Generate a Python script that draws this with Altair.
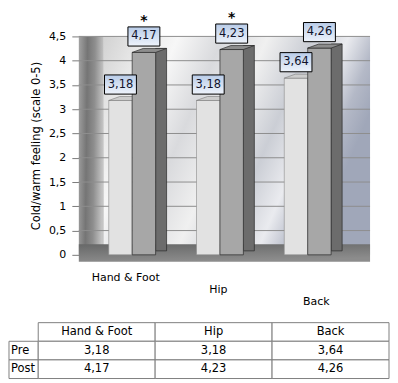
import altair as alt
import pandas as pd

# ---- data ----
categories = ["Hand & Foot", "Hip", "Back"]
series = ["Pre", "Post"]
pre_values = [3.18, 3.18, 3.64]
post_values = [4.17, 4.23, 4.26]
significance = ["*", "*", ""]
y_ticks = [0, 0.5, 1, 1.5, 2, 2.5, 3, 3.5, 4, 4.5]
row_labels = ["Pre", "Post"]
y_title = "Cold/warm feeling (scale 0-5)"


def fmt(v):
    return f"{v:.2f}".replace(".", ",")


bars = pd.DataFrame({
    "category": categories * 2,
    "series": [series[0]] * len(categories) + [series[1]] * len(categories),
    "value": pre_values + post_values,
    "sig": [""] * len(categories) + significance,
})
bars["label"] = bars["value"].map(fmt)

cells = []
for j, c in enumerate(categories):
    cells.append({"row": "head", "col": j + 1, "text": c, "kind": "head"})
for r, vals in zip(row_labels, [pre_values, post_values]):
    cells.append({"row": r, "col": 0, "text": r, "kind": "rowlabel"})
    for j, v in enumerate(vals):
        cells.append({"row": r, "col": j + 1, "text": fmt(v), "kind": "value"})
table = pd.DataFrame(cells)

ticks_df = pd.DataFrame({"tick": [t for t in y_ticks if t > 0]})
one = pd.DataFrame({"k": [0]})

FONT = "DejaVu Sans"
W, H = 292, 219

# ---- scales and axes ----
xscale = alt.Scale(domain=categories, range=[15, 279], paddingInner=0, paddingOuter=0)
xoff_scale = alt.Scale(domain=series, range=[15, 62], paddingInner=0, paddingOuter=0)
yscale = alt.Scale(domain=[0, 4.5], nice=False)

xaxis = alt.Axis(
    title=None, domain=False, ticks=False, labelAngle=0,
    labelFont=FONT, labelFontSize=11, labelColor="#000", labelBaseline="top",
    labelPadding={"condition": [{"test": "datum.value === 'Hip'", "value": 29},
                                {"test": "datum.value === 'Back'", "value": 41}],
                  "value": 17},
    labelOffset={"condition": [{"test": "datum.value === 'Hand & Foot'", "value": -12},
                               {"test": "datum.value === 'Hip'", "value": -7}],
                 "value": 3},
)
yaxis = alt.Axis(
    title=y_title, values=y_ticks, domain=False, grid=False,
    tickColor="#7a7a7a", tickSize=7, labelPadding=6,
    labelExpr="replace(format(datum.value, '.1~f'), '.', ',')",
    labelFont=FONT, labelFontSize=11, labelColor="#000",
    titleFont=FONT, titleFontSize=11.5, titleFontWeight="normal", titleColor="#000",
    titlePadding=7,
)

X = alt.X("category:N", scale=xscale, axis=xaxis)
XO = alt.XOffset("series:N", scale=xoff_scale)
Y = alt.Y("value:Q", scale=yscale, axis=yaxis)

wall_grad = alt.LinearGradient(
    gradient="linear", x1=0, y1=0, x2=1, y2=0.35,
    stops=[
        alt.GradientStop(offset=0, color="#d2d2d2"),
        alt.GradientStop(offset=0.12, color="#e6e6e6"),
        alt.GradientStop(offset=0.25, color="#f7f7f7"),
        alt.GradientStop(offset=0.4, color="#d9dadd"),
        alt.GradientStop(offset=0.55, color="#f0f0f0"),
        alt.GradientStop(offset=0.7, color="#cbced5"),
        alt.GradientStop(offset=0.82, color="#eaebef"),
        alt.GradientStop(offset=0.92, color="#b4b9c7"),
        alt.GradientStop(offset=1, color="#a0a7b9"),
    ])
side_grad = alt.LinearGradient(
    gradient="linear", x1=0, y1=0, x2=1, y2=0.1,
    stops=[
        alt.GradientStop(offset=0, color="#a2a2a2"),
        alt.GradientStop(offset=0.35, color="#757575"),
        alt.GradientStop(offset=0.65, color="#8e8e8e"),
        alt.GradientStop(offset=1, color="#c4c4c4"),
    ])
floor_grad = alt.LinearGradient(
    gradient="linear", x1=0, y1=0, x2=0.3, y2=1,
    stops=[
        alt.GradientStop(offset=0, color="#676868"),
        alt.GradientStop(offset=1, color="#8c8c8c"),
    ])
box_grad = alt.LinearGradient(
    gradient="linear", x1=0, y1=0, x2=0, y2=1,
    stops=[
        alt.GradientStop(offset=0, color="#b9cce8"),
        alt.GradientStop(offset=1, color="#eef3fb"),
    ])

wall = alt.Chart(one).mark_rect(fill=wall_grad).encode(
    x=alt.value(25), x2=alt.value("width"), y=alt.value(0), y2=alt.value("height"))
left_wall = alt.Chart(one).mark_rect(fill=side_grad).encode(
    x=alt.value(0), x2=alt.value(25), y=alt.value(0), y2=alt.value("height"))
grid = alt.Chart(ticks_df).mark_rule(color="#8e8e8e", strokeWidth=1).encode(
    y=alt.Y("tick:Q", scale=yscale, axis=yaxis), x=alt.value(0), x2=alt.value("width"))
floor = alt.Chart(one).mark_rect(fill=floor_grad).encode(
    y=alt.Y(datum=0.22, scale=yscale, axis=yaxis), y2=alt.datum(-0.14),
    x=alt.value(0), x2=alt.value("width"))

base = alt.Chart(bars)
pre = base.transform_filter(alt.datum.series == "Pre")
post = base.transform_filter(alt.datum.series == "Post")

CAP = "M-0.5,0L0.5,0L0.968,-0.17L-0.032,-0.17Z"
BOX = "M-1,-0.6H1V0.6H-1Z"

pre_front = pre.mark_bar(fill="#e2e2e2", stroke="#8a8a8a", strokeWidth=0.6).encode(x=X, xOffset=XO, y=Y)
pre_cap = pre.mark_point(shape=CAP, size=2209, filled=True, fill="#cdcdcd", stroke="#7a7a7a",
                         strokeWidth=0.6, opacity=1).encode(x=X, xOffset=XO, y=Y)
post_side = post.mark_bar(width=11, xOffset=23.5, x2Offset=23.5, yOffset=-4, y2Offset=-4,
                          fill="#6c6c6c", stroke="#2a2a2a", strokeWidth=0.7).encode(x=X, y=Y)
post_front = post.mark_bar(fill="#a7a7a7", stroke="#2a2a2a", strokeWidth=0.7).encode(x=X, xOffset=XO, y=Y)
post_cap = post.mark_point(shape=CAP, size=2209, filled=True, fill="#8d8d8d", stroke="#2a2a2a",
                           strokeWidth=0.7, opacity=1).encode(x=X, xOffset=XO, y=Y)
boxes = base.mark_point(shape=BOX, size=1024, filled=True, fill=box_grad, stroke="#000",
                        strokeWidth=1, opacity=1, yOffset=-16).encode(x=X, xOffset=XO, y=Y)
labels = base.mark_text(font=FONT, fontSize=11.5, color="#10122a", baseline="middle",
                        yOffset=-16).encode(x=X, xOffset=XO, y=Y, text="label:N")
stars = post.mark_text(font=FONT, fontSize=14, fontWeight="bold", color="#000", baseline="middle",
                       yOffset=-32).encode(x=X, xOffset=XO, y=Y, text="sig:N")

bar_group = alt.layer(wall, left_wall, grid, floor, pre_front, pre_cap,
                      post_side, post_front, post_cap, boxes, labels, stars)

# ---- table ----
tx = alt.Scale(domain=[0, 3.25], range=[-70, 311], nice=False, zero=False)
ty = alt.Scale(domain=["head"] + row_labels, range=[287, 343], paddingInner=0, paddingOuter=0)
tbase = alt.Chart(table).transform_calculate(
    x0="datum.col == 0 ? 0 : datum.col - 0.75",
    x1="datum.col == 0 ? 0.25 : datum.col + 0.25",
    xm="datum.col == 0 ? 0.125 : datum.col - 0.25",
)
TY = alt.Y("row:N", scale=ty, axis=None)
t_rect = tbase.mark_rect(fill="#ffffff", stroke="#7f7f7f", strokeWidth=1).encode(
    x=alt.X("x0:Q", scale=tx, axis=None), x2="x1:Q", y=TY)
t_center = tbase.transform_filter(alt.datum.kind != "rowlabel").mark_text(
    font=FONT, fontSize=11.5, color="#000", baseline="middle").encode(
    x=alt.X("xm:Q", scale=tx, axis=None), y=TY, text="text:N")
t_left = tbase.transform_filter(alt.datum.kind == "rowlabel").mark_text(
    font=FONT, fontSize=11.5, color="#000", baseline="middle", align="left", dx=2).encode(
    x=alt.X("x0:Q", scale=tx, axis=None), y=TY, text="text:N")
table_group = alt.layer(t_rect, t_center, t_left)

chart = alt.layer(bar_group, table_group).resolve_scale(
    x="independent", y="independent"
).properties(width=W, height=H, padding=0, background="#ffffff").configure_view(stroke=None)

chart.save("out.html", embed_options={"renderer": "svg", "actions": False})
